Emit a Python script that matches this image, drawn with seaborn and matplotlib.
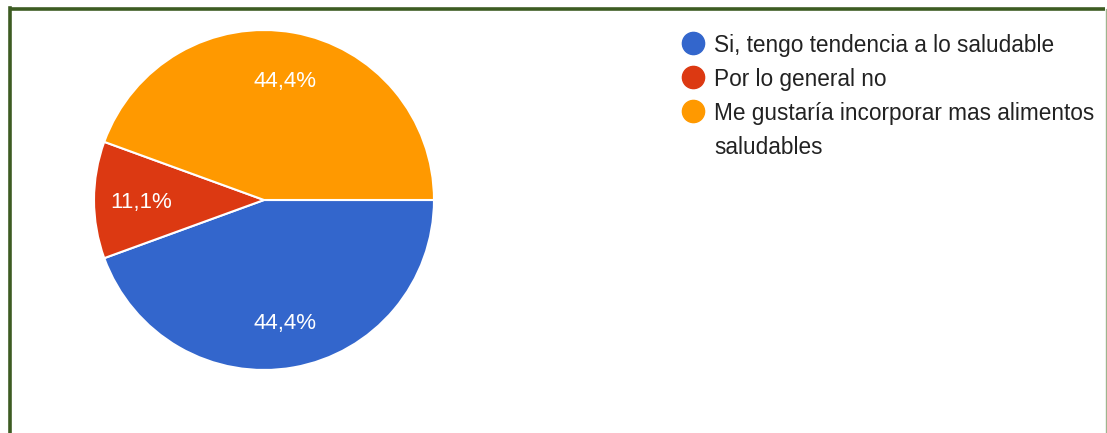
import matplotlib
matplotlib.use("Agg")
import matplotlib.pyplot as plt
from matplotlib.lines import Line2D
import seaborn as sns

# Survey answers
categories = [
    "Si, tengo tendencia a lo saludable",
    "Por lo general no",
    "Me gustaría incorporar mas alimentos\nsaludables",
]
counts = [4, 1, 4]
colors = ["#3366cc", "#dc3912", "#ff9900"]

sns.set_theme(style="white")
plt.rcParams["font.family"] = ["Liberation Sans", "DejaVu Sans"]

W, H = 1107, 433
fig = plt.figure(figsize=(W / 100, H / 100), dpi=100)
fig.patch.set_facecolor("white")

# Pie axes (center ~ (264, 200) px, radius ~170 px)
cx, cy, r = 264, 200, 170
ax = fig.add_axes([(cx - r) / W, (H - cy - r) / H, 2 * r / W, 2 * r / H])
wedges, texts, autotexts = ax.pie(
    counts,
    colors=colors,
    startangle=0,
    counterclock=False,
    autopct=lambda p: f"{p:.1f}%".replace(".", ","),
    pctdistance=0.72,
    wedgeprops=dict(edgecolor="white", linewidth=1.5),
    textprops=dict(color="white", fontsize=16),
)
for t in autotexts:
    t.set_va("center_baseline")
ax.set_aspect("equal")
ax.set_xlim(-1.0, 1.0)
ax.set_ylim(-1.0, 1.0)
ax.axis("off")

# Legend: one row per category, marker aligned with the first text line
row_y = 43      # first row centre, px from top
row_step = 34   # px between text lines
line_idx = 0
for label, c in zip(categories, colors):
    y = row_y + line_idx * row_step
    fig.add_artist(Line2D([693 / W], [1 - y / H], marker="o", linestyle="none",
                          markersize=16, markerfacecolor=c, markeredgecolor=c,
                          transform=fig.transFigure))
    for k, part in enumerate(label.split("\n")):
        fig.text(714 / W, 1 - (y + k * row_step) / H, part, fontsize=16.3,
                 color="#222222", ha="left", va="center_baseline")
    line_idx += len(label.split("\n"))

# Frame around the chart
green = "#3d5c22"
fig.add_artist(Line2D([9.5 / W, 9.5 / W], [0, 1 - 8 / H], color=green, lw=2.6,
                      solid_capstyle="projecting", transform=fig.transFigure))
fig.add_artist(Line2D([9.5 / W, 1105 / W], [1 - 9 / H, 1 - 9 / H], color=green, lw=2.6,
                      solid_capstyle="butt", transform=fig.transFigure))
fig.add_artist(Line2D([1105.5 / W, 1105.5 / W], [0, 1 - 9 / H], color="#9fb58f", lw=1.0,
                      transform=fig.transFigure))

# Caption above the frame, mostly cropped
fig.text(8 / W, 1 + 6 / H, "Figura", fontsize=14, color="black",
         ha="left", va="baseline")

fig.savefig("out.png", dpi=100)
